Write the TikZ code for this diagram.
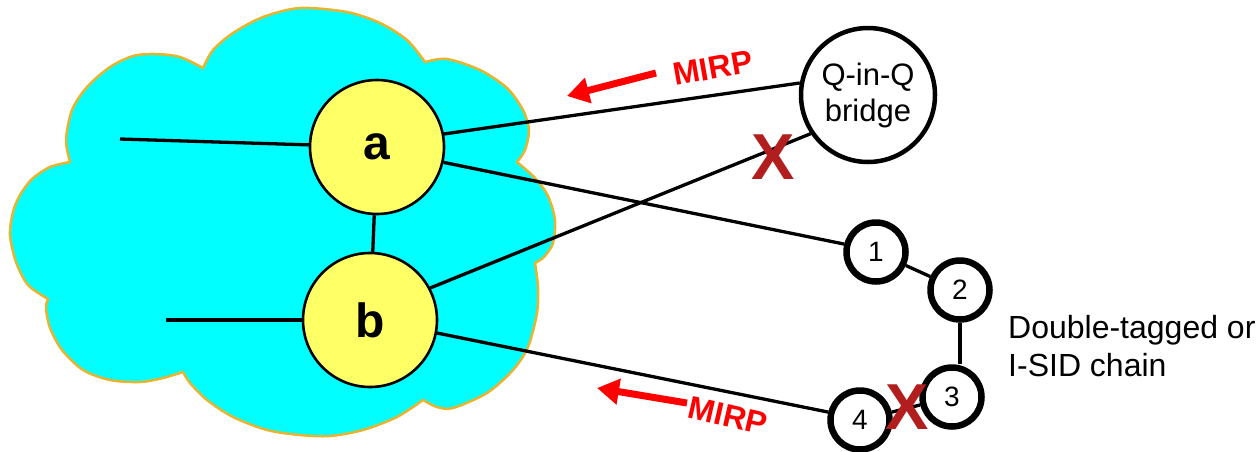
\documentclass[tikz,border=0pt]{standalone}
\usepackage{fontspec}
\setmainfont{Liberation Sans}
\usetikzlibrary{arrows.meta}
\definecolor{cloudfill}{RGB}{0,255,255}
\definecolor{cloudline}{RGB}{232,180,48}
\definecolor{routerfill}{RGB}{255,255,102}
\definecolor{cutred}{RGB}{178,30,30}
\begin{document}
\begin{tikzpicture}[x=1pt,y=-1pt,
  cloud/.style={fill=cloudfill,draw=cloudline,line width=2.5pt,line join=round},
  router/.style={circle,draw,fill=routerfill,line width=2.6pt,minimum size=134pt,inner sep=0pt,font=\fontsize{48}{56}\selectfont\bfseries},
  bridge/.style={circle,draw,fill=white,line width=4.5pt,minimum size=134pt,inner sep=0pt,align=center,font=\fontsize{31}{36}\selectfont},
  hop/.style={circle,draw,fill=white,line width=6.5pt,minimum size=59pt,inner sep=0pt,font=\fontsize{28}{32}\selectfont},
  link/.style={line width=3.3pt},
  cut/.style={text=cutred,inner sep=0pt,font=\fontsize{65}{70}\selectfont\bfseries},
  mirp/.style={text=red,inner sep=0pt,font=\fontsize{32}{36}\selectfont\bfseries},
  push/.style={red,line width=7pt,-{Triangle[length=22pt,width=25pt]}},
  chaintext/.style={align=left,inner sep=0pt,font=\fontsize{32}{38}\selectfont}]
\useasboundingbox (0,0) rectangle (1258,451);
\filldraw[cloud] plot[smooth] coordinates {(70,162) (66,140) (72,110) (87,87) (110,67) (133,56) (155,54) (180,57) (203,68)}
  -- plot[smooth] coordinates {(203,68) (213,50) (233,33) (263,17) (300,8) (347,12) (380,23) (407,40) (425,62)}
  -- plot[smooth] coordinates {(425,62) (447,59) (480,70) (507,88) (523,110) (529,130) (525,150) (517,162)}
  -- plot[smooth] coordinates {(517,162) (535,178) (548,196) (555,220) (553,243) (544,257) (535,263)}
  -- plot[smooth] coordinates {(535,263) (538,287) (537,313) (528,347) (513,370) (487,393) (453,408) (437,407) (423,400)}
  -- plot[smooth] coordinates {(423,400) (397,417) (363,430) (330,436) (300,435) (267,430) (233,417) (207,400) (190,383) (183,372)}
  -- plot[smooth] coordinates {(183,372) (163,378) (140,382) (110,380) (83,370) (62,350) (50,328) (46,308) (48,299)}
  -- plot[smooth] coordinates {(48,299) (28,285) (16,262) (10,235) (13,212) (20,195) (32,179) (50,167) (70,162)} -- cycle;
\node[router] (a) at (377,147) {a};
\node[router] (b) at (370,320) {b};
\node[bridge] (br) at (868,95) {Q-in-Q\\bridge};
\node[hop] (n1) at (876,252) {1};
\node[hop] (n2) at (960,290) {2};
\node[hop] (n3) at (952,397) {3};
\node[hop] (n4) at (860,420) {4};
\coordinate (ain) at (120,139);
\coordinate (bin) at (166,320);
\draw[link] (ain) -- (a);
\draw[link] (bin) -- (b);
\draw[link] (a) -- (b);
\draw[link] (a.11) -- (br.170);
\draw[link] (b.28) -- (br.214);
\draw[link] (a.-13) -- (n1.166);
\draw[link] (b.-11) -- (n4.166);
\draw[link] (n1) -- (n2);
\draw[link] (n2.south) -- (n2.south |- n3.north);
\draw[link] (n3) -- (n4);
\node[cut] (x1) at (773,157) {X};
\node[cut] (x2) at (907,407) {X};
\node[mirp,rotate=10] (m1) at (713,68) {MIRP};
\node[mirp,rotate=-13] (m2) at (728,416) {MIRP};
\coordinate (t1) at (656,73);
\coordinate (h1) at (567,96);
\coordinate (t2) at (687,403);
\coordinate (h2) at (597,388);
\draw[push] (t1) -- (h1);
\draw[push] (t2) -- (h2);
\node[chaintext,anchor=base west] (lbl) at (1008,376) {Double-tagged or\\I-SID chain};
\end{tikzpicture}
\end{document}
